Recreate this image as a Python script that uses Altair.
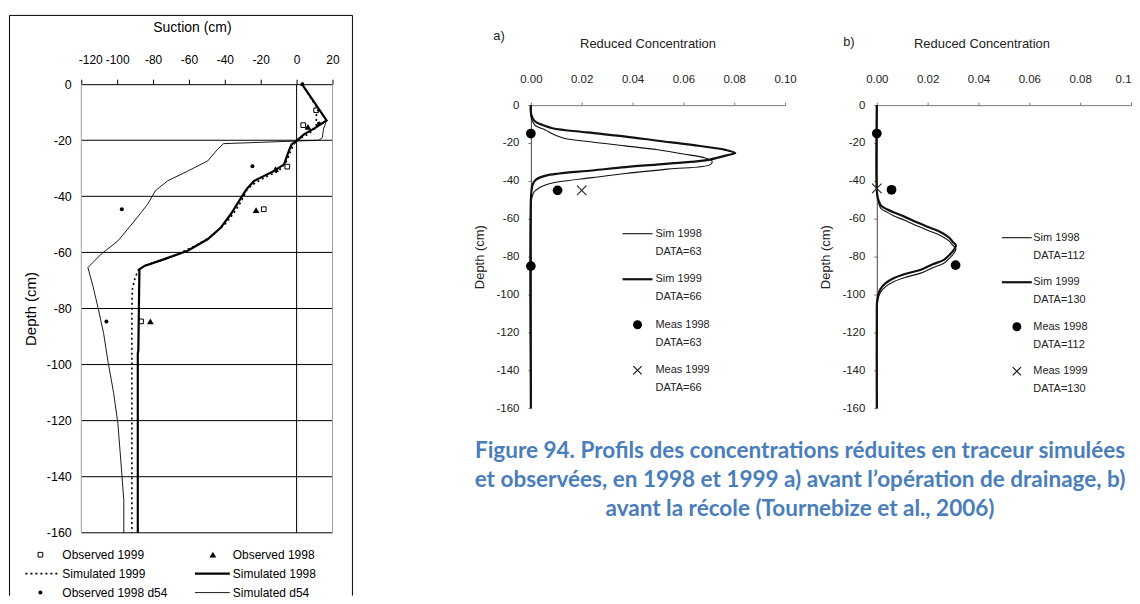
import altair as alt
import pandas as pd

FONT = "Liberation Sans"
CAP_FONT = "Lato"

# ------------------------------------------------------------------
# Left panel: suction profiles (suction in cm, depth in cm)
# ------------------------------------------------------------------
sim98_suction = [3, 16.7, 10.6, 4.1, -0.2, -2.8, -4.3, -7, -12.6, -18.1, -23.7, -28, -32, -36.7,
                 -42.2, -49.6, -60.7, -73.7, -84.8, -87.6, -88.2, -88.5, -88.5]
sim98_depth = [0, -12.9, -15.5, -17.9, -20.3, -21.5, -23.8, -28.6, -31, -32.7, -34.5, -37.5, -41.6, -46.4,
               -51.1, -55.3, -59.4, -62.4, -64.8, -66, -95, -96, -160]

sim99_suction = [3, 8, 12, 11, 11, 6, 0, -2, -4, -6, -10, -17, -25, -28, -31, -35, -40, -47, -56,
                 -66, -76, -84, -88, -90, -91.5, -91.8, -91.8]
sim99_depth = [0, -5, -9, -11, -15.5, -18, -20, -22, -25, -28, -31, -33, -36, -38, -42, -46, -50, -54, -57.5,
               -60.5, -63, -64.5, -66, -69, -73, -80, -160]

d54_suction = [3, 16.7, 15, 14.3, 12.4, -40.7, -44, -49.6, -60.7, -71.9, -78.7, -83, -90.4, -99.6, -108.9,
               -116.3, -113.5, -110.7, -107.5, -105.2, -102, -99.6, -97.4, -96.3, -96.3]
d54_depth = [0, -12.9, -16, -19.1, -20, -21.2, -23.2, -27.4, -31, -34.5, -38, -42.8, -48.8, -55.9, -60.6,
             -65.4, -72, -79.6, -89, -98.6, -110, -121, -138.9, -148.4, -160]

obs99_suction = [10.9, 3.7, -5.2, -18.3, -86.7]
obs99_depth = [-9.3, -14.6, -29.4, -44.6, -84.6]
obs98_suction = [6.3, -11.7, -22.6, -81.5]
obs98_depth = [-15.2, -30.3, -44.9, -84.6]
obsd54_suction = [3.2, 12.5, -24.6, -97.4, -106]
obsd54_depth = [0, -14, -29.3, -44.6, -84.6]

suction_ticks = [-120, -100, -80, -60, -40, -20, 0, 20]
depth_ticks = [-160, -140, -120, -100, -80, -60, -40, -20, 0]
grid_depths = [-20, -40, -60, -80, -100, -120, -140, -160]

left_legend_labels = ["Observed 1999", "Observed 1998", "Simulated 1999",
                      "Simulated 1998", "Observed 1998 d54", "Simulated d54"]
left_legend_col = [0, 1, 0, 1, 0, 1]
left_legend_row = [0, 0, 1, 1, 2, 2]

# ------------------------------------------------------------------
# Panel a) reduced concentration profiles
# ------------------------------------------------------------------
a_sim98_depth = [0, -6, -9, -11, -13, -15.5, -17.5, -19.5, -21.5, -23.6, -25.8, -27.9, -29.7, -31.4,
                 -33.8, -36.1, -38.3, -40.5, -42, -43.6, -46, -49, -53, -160]
a_sim98_conc = [0, 0, 0.0008, 0.002, 0.0055, 0.009, 0.013, 0.024, 0.037, 0.050, 0.060, 0.0686, 0.0713, 0.0706,
                0.054, 0.0373, 0.024, 0.011, 0.006, 0.0033, 0.0012, 0.0004, 0, 0]
a_sim99_depth = [0, -4, -7, -9, -10.5, -12.2, -14.4, -16.6, -18.8, -21, -23.6, -25.3, -26.5, -29.2, -31,
                 -32.7, -34.5, -36.1, -37.2, -39.3, -41.9, -46, -50, -160]
a_sim99_conc = [0, 0, 0.0007, 0.002, 0.0046, 0.0085, 0.022, 0.0373, 0.050, 0.0634, 0.0765, 0.0804, 0.077,
                0.0686, 0.053, 0.0373, 0.024, 0.0111, 0.0059, 0.002, 0.0007, 0.0002, 0, 0]
a_meas98_conc = [0, 0.0105, 0]
a_meas98_depth = [-15, -45, -85]
a_meas99_conc = [0.02]
a_meas99_depth = [-45]
a_legend_data = ["DATA=63", "DATA=66", "DATA=63", "DATA=66"]

# ------------------------------------------------------------------
# Panel b) reduced concentration profiles
# ------------------------------------------------------------------
b_sim99_depth = [0, -45, -49, -51, -53, -55, -56.7, -59, -62, -64.5, -67, -70, -72.4, -74, -76, -78.5,
                 -81.7, -84, -86.9, -89, -91.3, -94, -97, -100, -104, -108, -160]
b_sim99_conc = [0, 0, 0.0004, 0.0009, 0.0016, 0.004, 0.0068, 0.011, 0.016, 0.0205, 0.025, 0.0285, 0.030,
                0.0311, 0.0305, 0.029, 0.0264, 0.022, 0.0173, 0.0115, 0.0068, 0.0035, 0.0015, 0.0006,
                0.0001, 0, 0]
b_sim98_depth = [0, -46, -50, -52.5, -54.5, -56.5, -58.5, -60.8, -63.8, -66.3, -68.8, -71.8, -74.2, -75.8,
                 -77.8, -80.3, -83.5, -85.8, -88.7, -90.8, -93.1, -95.8, -98.8, -101.8, -106, -110, -160]
b_sim98_conc = [0, 0, 0.0004, 0.0009, 0.0016, 0.004, 0.0068, 0.011, 0.016, 0.0205, 0.025, 0.0285, 0.030,
                0.0311, 0.0305, 0.029, 0.0264, 0.022, 0.0173, 0.0115, 0.0068, 0.0035, 0.0015, 0.0006,
                0.0001, 0, 0]
b_meas98_conc = [0, 0.0058, 0.031]
b_meas98_depth = [-15, -44.7, -84.5]
b_meas99_conc = [0]
b_meas99_depth = [-44]
b_legend_data = ["DATA=112", "DATA=130", "DATA=112", "DATA=130"]

legend_names = ["Sim 1998", "Sim 1999", "Meas 1998", "Meas 1999"]
conc_ticks = [0, 0.02, 0.04, 0.06, 0.08, 0.1]

caption_lines = [
    "Figure 94. Profils des concentrations réduites en traceur simulées",
    "et observées, en 1998 et 1999 a) avant l\u2019opération de drainage, b)",
    "avant la récole (Tournebize et al., 2006)",
]

XPATH = "M-1,-1L1,1M-1,1L1,-1"
HYPHEN = "'' + datum.value"
one = pd.DataFrame({"k": [0]})


def series_df(xs, ys):
    return pd.DataFrame({"x": xs, "y": ys, "i": list(range(len(xs)))})


# ---------------------------- left chart ----------------------------
SXL = alt.Scale(domain=[-120, 20], range=[0, 252], nice=False, zero=False)
SYL = alt.Scale(domain=[-160, 0], range=[429, -21], nice=False, zero=False)
AXL = alt.Axis(orient="top", values=suction_ticks, offset=21, tickSize=5, tickColor="black",
               domainColor="black", labelFont=FONT, labelFontSize=12, labelColor="black",
               labelPadding=13, labelOverlap=False, labelFlush=False, labelExpr=HYPHEN,
               labelAlign={"condition": {"test": "datum.value == -120", "value": "left"}, "value": "center"},
               labelOffset={"condition": {"test": "datum.value == -120", "value": -3}, "value": 0},
               title="Suction (cm)", titleFont=FONT, titleFontSize=14, titleFontWeight="normal",
               titleColor="black", titlePadding=19, titleX=111, grid=False)
AYL = alt.Axis(values=depth_ticks, domain=False, ticks=False, grid=False, labelFont=FONT,
               labelFontSize=12.5, labelColor="black", labelPadding=10, labelExpr=HYPHEN,
               title="Depth (cm)", titleFont=FONT, titleFontSize=15, titleFontWeight="normal",
               titleColor="black", titlePadding=8)


def XL():
    return alt.X("x:Q", scale=SXL, axis=AXL)


def YL():
    return alt.Y("y:Q", scale=SYL, axis=AYL)


# outer frame of the left figure (open at the bottom, where the page cuts it)
frame_l = alt.Chart(one).mark_rule(color="black", strokeWidth=1).encode(
    x=alt.value(-72), y=alt.value(-90), y2=alt.value(492))
frame_r = alt.Chart(one).mark_rule(color="black", strokeWidth=1).encode(
    x=alt.value(272), y=alt.value(-90), y2=alt.value(492))
frame_t = alt.Chart(one).mark_rule(color="black", strokeWidth=1).encode(
    x=alt.value(-72), x2=alt.value(272), y=alt.value(-90))
grid = alt.Chart(pd.DataFrame({"y": grid_depths, "x": -120, "x2": 20})).mark_rule(
    color="black", strokeWidth=1).encode(x=XL(), x2="x2:Q", y=YL())
borders = alt.Chart(pd.DataFrame({"x": [-120, 20], "y": 0, "y2": -160})).mark_rule(
    color="#a0a0a0", strokeWidth=1).encode(x=XL(), y=YL(), y2="y2:Q")
zero = alt.Chart(pd.DataFrame({"x": [0], "y": 0, "y2": -160})).mark_rule(
    color="black", strokeWidth=1).encode(x=XL(), y=YL(), y2="y2:Q")

line_d54 = alt.Chart(series_df(d54_suction, d54_depth)).mark_line(color="black", strokeWidth=0.9).encode(
    x=XL(), y=YL(), order="i:Q")
line_99 = alt.Chart(series_df(sim99_suction, sim99_depth)).mark_line(
    color="black", strokeWidth=1.6, strokeDash=[2, 3]).encode(x=XL(), y=YL(), order="i:Q")
line_98 = alt.Chart(series_df(sim98_suction, sim98_depth)).mark_line(color="black", strokeWidth=2.2).encode(
    x=XL(), y=YL(), order="i:Q")
pts_99 = alt.Chart(series_df(obs99_suction, obs99_depth)).mark_point(
    shape="square", filled=False, size=22, color="black", strokeWidth=1, opacity=1).encode(x=XL(), y=YL())
pts_98 = alt.Chart(series_df(obs98_suction, obs98_depth)).mark_point(
    shape="triangle-up", filled=True, size=45, color="black", opacity=1).encode(x=XL(), y=YL())
pts_d54 = alt.Chart(series_df(obsd54_suction, obsd54_depth)).mark_circle(
    size=16, color="black", opacity=1).encode(x=XL(), y=YL())

left_leg_df = pd.DataFrame({"label": left_legend_labels, "col": left_legend_col, "row": left_legend_row})
LX = alt.X("col:Q", scale=alt.Scale(domain=[0, 1], range=[-19, 152]), axis=None)
LY = alt.Y("row:Q", scale=alt.Scale(domain=[0, 2], range=[451, 489]), axis=None)


def left_sym(label, **mk):
    return alt.Chart(left_leg_df).transform_filter(alt.datum.label == label).mark_point(
        opacity=1, color="black", **mk).encode(x=LX, y=LY)


leg_text = alt.Chart(left_leg_df).mark_text(align="left", baseline="middle", font=FONT, fontSize=12,
                                            color="black").encode(x=LX, y=LY, text="label:N")
left_legend = alt.layer(
    leg_text,
    left_sym("Observed 1999", shape="square", filled=False, size=22, strokeWidth=1, xOffset=-22),
    left_sym("Observed 1998", shape="triangle-up", filled=True, size=45, xOffset=-20),
    left_sym("Simulated 1999", shape="stroke", filled=False, size=1225, strokeWidth=1.6,
             strokeDash=[2, 3], xOffset=-19.5),
    left_sym("Simulated 1998", shape="stroke", filled=False, size=1225, strokeWidth=2.2, xOffset=-20.5),
    left_sym("Observed 1998 d54", shape="circle", filled=True, size=16, xOffset=-22),
    left_sym("Simulated d54", shape="stroke", filled=False, size=1225, strokeWidth=0.9, xOffset=-20.5),
)

left = alt.layer(
    alt.layer(frame_l, frame_r, frame_t, grid, borders, zero, line_d54, line_99, line_98,
              pts_99, pts_98, pts_d54),
    left_legend,
).resolve_scale(x="independent", y="independent").properties(width=451, height=450)

# ---------------------------- right panels ----------------------------
SXR = alt.Scale(domain=[0, 0.1], range=[0, 255], nice=False, zero=False)
SYR = alt.Scale(domain=[-160, 0], nice=False, zero=False)


def AXR(title_x, last_right):
    extra = {}
    if last_right:
        extra = dict(labelExpr="datum.value == 0.1 ? '0.1' : format(datum.value, '.2f')",
                     labelAlign={"condition": {"test": "datum.value == 0.1", "value": "right"},
                                 "value": "center"})
    return alt.Axis(orient="top", values=conc_ticks, format=".2f", tickSize=3, tickColor="#7a7a7a",
                    domainColor="#7a7a7a", labelFont=FONT, labelFontSize=11.5, labelColor="#222",
                    labelPadding=18, labelOverlap=False, labelFlush=False,
                    title="Reduced Concentration", titleFont=FONT, titleFontSize=13,
                    titleFontWeight="normal", titleColor="#222", titlePadding=23, titleX=title_x,
                    grid=False, **extra)


def AYR():
    return alt.Axis(values=depth_ticks, tickSize=3, tickColor="#7a7a7a", domainColor="#444",
                    labelFont=FONT, labelFontSize=11.5, labelColor="#222", labelPadding=9, labelExpr=HYPHEN,
                    title="Depth (cm)", titleFont=FONT, titleFontSize=13, titleFontWeight="normal",
                    titleColor="#222", titlePadding=9, grid=False)


def conc_panel(s98_d, s98_c, s99_d, s99_c, m98_c, m98_d, m99_c, m99_d, leg_data, tag, tag_x, tag_y,
               title_x, leg_x, row0, row3, sym_off, width, with_caption=False, last_right=False):
    X = alt.X("x:Q", scale=SXR, axis=AXR(title_x, last_right))
    Y = alt.Y("y:Q", scale=SYR, axis=AYR())
    thin = alt.Chart(series_df(s98_c, s98_d)).mark_line(
        color="#111", strokeWidth=1.1, interpolate="catmull-rom").encode(x=X, y=Y, order="i:Q")
    thick = alt.Chart(series_df(s99_c, s99_d)).mark_line(
        color="#111", strokeWidth=2.2, interpolate="catmull-rom").encode(x=X, y=Y, order="i:Q")
    m98 = alt.Chart(series_df(m98_c, m98_d)).mark_circle(size=95, color="black", opacity=1).encode(x=X, y=Y)
    m99 = alt.Chart(series_df(m99_c, m99_d)).mark_point(
        shape=XPATH, size=90, filled=False, strokeWidth=1.1, color="#222", opacity=1).encode(x=X, y=Y)
    tag_t = alt.Chart(one).mark_text(align="center", baseline="middle", font=FONT, fontSize=13,
                                     color="#222").encode(x=alt.value(tag_x), y=alt.value(tag_y),
                                                          text=alt.value(tag))
    data_layers = [thin, thick, m98, m99, tag_t]
    if with_caption:
        cap = alt.Chart(one).mark_text(align="center", baseline="middle", font=CAP_FONT, fontWeight="bold",
                                       fontSize=22.6, color="#4a7ebb", lineHeight=29).encode(
            x=alt.value(270), y=alt.value(347), text=alt.value(caption_lines))
        data_layers.append(cap)

    ldf = pd.DataFrame({"name": legend_names, "data": leg_data, "row": [0, 1, 2, 3]})
    LYR = alt.Y("row:Q", scale=alt.Scale(domain=[0, 3], range=[row0, row3]), axis=None)
    t1 = alt.Chart(ldf).mark_text(align="left", baseline="middle", font=FONT, fontSize=11,
                                  color="#222").encode(x=alt.value(leg_x), y=LYR, text="name:N")
    t2 = alt.Chart(ldf).mark_text(align="left", baseline="middle", font=FONT, fontSize=11, dy=18,
                                  color="#222").encode(x=alt.value(leg_x), y=LYR, text="data:N")

    def sym(name, kind, **mk):
        base = alt.Chart(ldf).transform_filter(alt.datum.name == name)
        if kind == "circle":
            m = base.mark_circle(opacity=1, color="black", xOffset=sym_off, **mk)
        else:
            m = base.mark_point(opacity=1, color="#111", filled=False, xOffset=sym_off, **mk)
        return m.encode(x=alt.value(leg_x), y=LYR)

    legend = alt.layer(
        t1, t2,
        sym("Sim 1998", "point", shape="stroke", size=900, strokeWidth=1.1),
        sym("Sim 1999", "point", shape="stroke", size=900, strokeWidth=2.2),
        sym("Meas 1998", "circle", size=80),
        sym("Meas 1999", "point", shape=XPATH, size=70, strokeWidth=1.1),
    )
    return alt.layer(alt.layer(*data_layers), legend).resolve_scale(y="independent").properties(
        width=width, height=304)


panel_a = conc_panel(a_sim98_depth, a_sim98_conc, a_sim99_depth, a_sim99_conc, a_meas98_conc, a_meas98_depth,
                     a_meas99_conc, a_meas99_depth, a_legend_data, "a)", -32, -69, 117,
                     125, 129, 266, -18, 347, with_caption=True)
panel_b = conc_panel(b_sim98_depth, b_sim98_conc, b_sim99_depth, b_sim99_conc, b_meas98_conc, b_meas98_depth,
                     b_meas99_conc, b_meas99_depth, b_legend_data, "b)", -28, -63, 105,
                     157, 133, 267, -16.5, 255, last_right=True)

chart = alt.hconcat(left, panel_a, panel_b, spacing=0, bounds="flush").properties(
    padding={"left": 0.5, "top": 5.5, "right": 0, "bottom": 0}
).configure(font=FONT).configure_view(stroke="transparent")

chart.save("out.html", embed_options={"renderer": "svg", "actions": False})
